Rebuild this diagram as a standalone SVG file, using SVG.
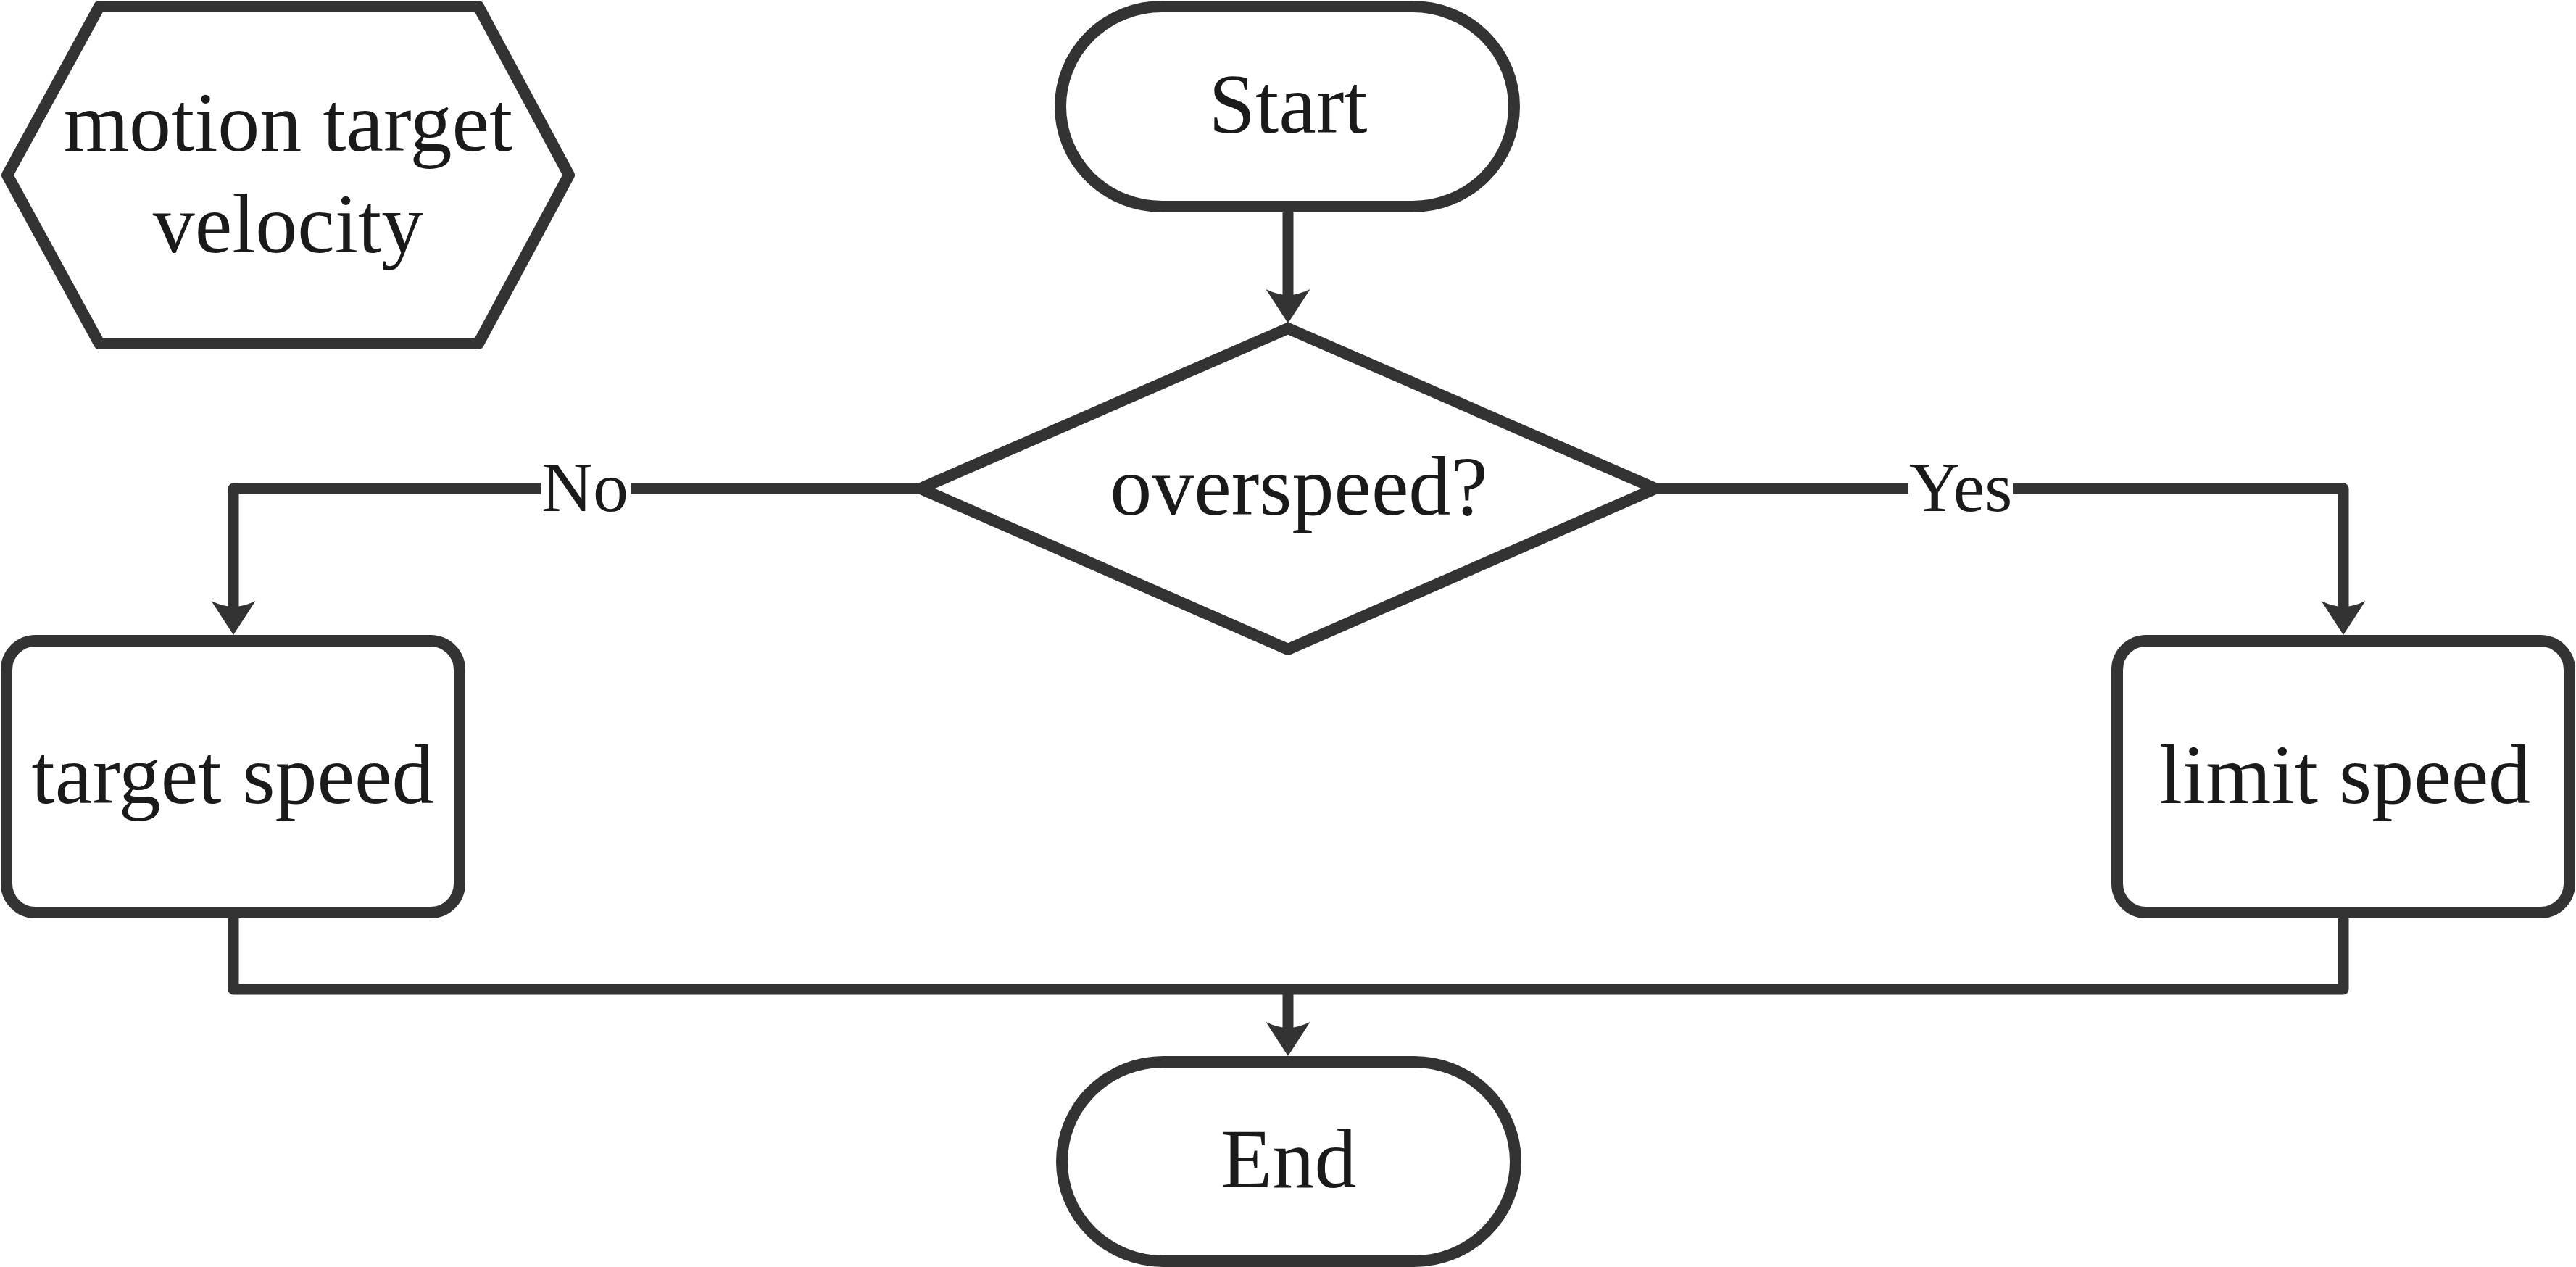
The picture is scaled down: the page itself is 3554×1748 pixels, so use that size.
<svg xmlns="http://www.w3.org/2000/svg" width="3554" height="1748" viewBox="0 0 3554 1748">
<style>
.shape{fill:#ffffff;stroke:#333333;stroke-width:16;stroke-linejoin:round}
.conn{fill:none;stroke:#333333;stroke-width:15;stroke-linejoin:round}
.t{font-family:"Liberation Serif","Times New Roman",serif;font-size:116px;fill:#1a1a1a;text-anchor:middle}
.lbl{font-family:"Liberation Serif","Times New Roman",serif;font-size:98px;fill:#1a1a1a;text-anchor:middle}
.bg{fill:#ffffff;stroke:none}
</style>
<defs>
<marker id="arr" markerUnits="userSpaceOnUse" viewBox="-10 -35 60 70" markerWidth="60" markerHeight="70" refX="0" refY="0" orient="auto" overflow="visible">
<path d="M39,0 L-8,-30.5 Q0,-14 0,0 Q0,14 -8,30.5 Z" fill="#333333"/>
</marker>
</defs>
<rect width="3554" height="1748" fill="#ffffff"/>
<g id="connectors">
<path class="conn" d="M1777,285 V407" marker-end="url(#arr)"/>
<path class="conn" d="M1270,674 H322 V837" marker-end="url(#arr)"/>
<path class="conn" d="M2284,674 H3233 V837" marker-end="url(#arr)"/>
<path class="conn" d="M322,1259 V1365 H3233 V1259"/>
<path class="conn" d="M1777,1365 V1418" marker-end="url(#arr)"/>
<g id="label-no">
<rect class="bg" x="746" y="645" width="124" height="60"/>
<text class="lbl" x="807" y="705">No</text>
</g>
<g id="label-yes">
<rect class="bg" x="2633" y="645" width="144" height="60"/>
<text class="lbl" x="2705" y="705">Yes</text>
</g>
</g>
<g id="node-velocity">
<polygon class="shape" points="137,9 660,9 785,241.5 660,474 137,474 10,241.5"/>
<text class="t" x="397.5" y="207.5">motion target</text>
<text class="t" x="397.5" y="347.5">velocity</text>
</g>
<g id="node-start">
<rect class="shape" x="1463" y="9" width="626" height="276" rx="140" ry="138"/>
<text class="t" x="1777" y="183">Start</text>
</g>
<g id="node-overspeed">
<polygon class="shape" points="1777,453 2284,674 1777,896 1270,674"/>
<text class="t" x="1792" y="710">overspeed?</text>
</g>
<g id="node-target">
<rect class="shape" x="9" y="884" width="625" height="375" rx="40" ry="40"/>
<text class="t" x="321" y="1108">target speed</text>
</g>
<g id="node-limit">
<rect class="shape" x="2921" y="884" width="624" height="375" rx="40" ry="40"/>
<text class="t" x="3235" y="1108">limit speed</text>
</g>
<g id="node-end">
<rect class="shape" x="1465" y="1465" width="626" height="275" rx="140" ry="137.5"/>
<text class="t" x="1778" y="1638">End</text>
</g>
</svg>
